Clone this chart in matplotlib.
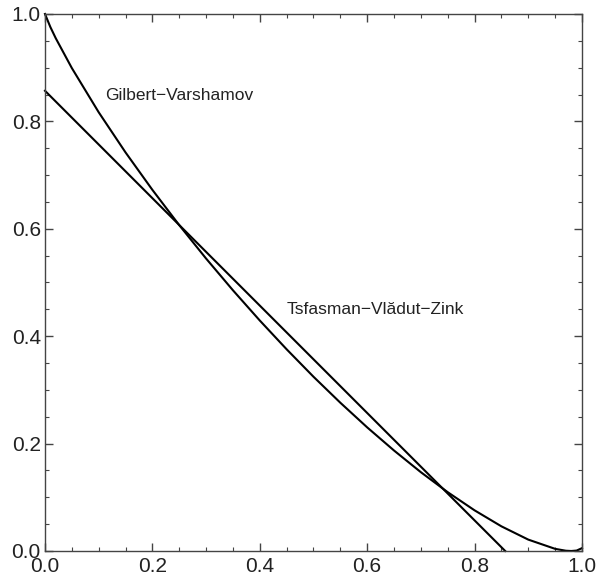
import matplotlib
matplotlib.use('Agg')
import matplotlib.pyplot as plt
from matplotlib.ticker import MultipleLocator

plt.rcParams['font.family'] = ['Liberation Sans', 'DejaVu Sans']

# relative distance delta and rate R
gv_delta = [0.0, 0.01, 0.02, 0.05, 0.10, 0.15, 0.20, 0.25, 0.30, 0.35, 0.40,
            0.45, 0.50, 0.55, 0.60, 0.65, 0.70, 0.75, 0.80, 0.85, 0.90, 0.95,
            0.97, 0.98, 0.99, 1.0]
gv_rate = [1.0, 0.9757, 0.9549, 0.8993, 0.8170, 0.7422, 0.6725, 0.6068, 0.5446,
           0.4855, 0.4292, 0.3756, 0.3245, 0.2761, 0.2302, 0.1871, 0.1467,
           0.1095, 0.0757, 0.0459, 0.0212, 0.0040, 0.0005, 0.0, 0.0008, 0.0053]

tvz_delta = [0.0, 0.857]
tvz_rate = [0.857, 0.0]

fig = plt.figure(figsize=(5.99, 5.80), dpi=100)
ax = fig.add_axes([0.0751, 0.05, 0.8965, 0.9259])

ax.plot(gv_delta, gv_rate, color='black', lw=1.5, clip_on=False)
ax.plot(tvz_delta, tvz_rate, color='black', lw=1.5, clip_on=False)

ax.text(0.112, 0.849, 'Gilbert\u2212Varshamov', fontsize=12.5, va='center',
        color='#222222')
ax.text(0.45, 0.449, 'Tsfasman\u2212Vl\u0103dut\u2212Zink', fontsize=12.5,
        va='center', color='#222222')

ax.set_xlim(0, 1)
ax.set_ylim(0, 1)
ax.xaxis.set_major_locator(MultipleLocator(0.2))
ax.xaxis.set_minor_locator(MultipleLocator(0.05))
ax.yaxis.set_major_locator(MultipleLocator(0.2))
ax.yaxis.set_minor_locator(MultipleLocator(0.05))
ax.tick_params(which='both', direction='in', top=True, right=True,
               color='#444444', labelsize=15, labelcolor='#222222')
ax.tick_params(axis='y', pad=3)
ax.tick_params(axis='x', pad=4)
ax.tick_params(which='major', length=6, width=1)
ax.tick_params(which='minor', length=3, width=0.8)
for s in ax.spines.values():
    s.set_color('#444444')
    s.set_linewidth(1)

fig.savefig('out.png', dpi=100)
